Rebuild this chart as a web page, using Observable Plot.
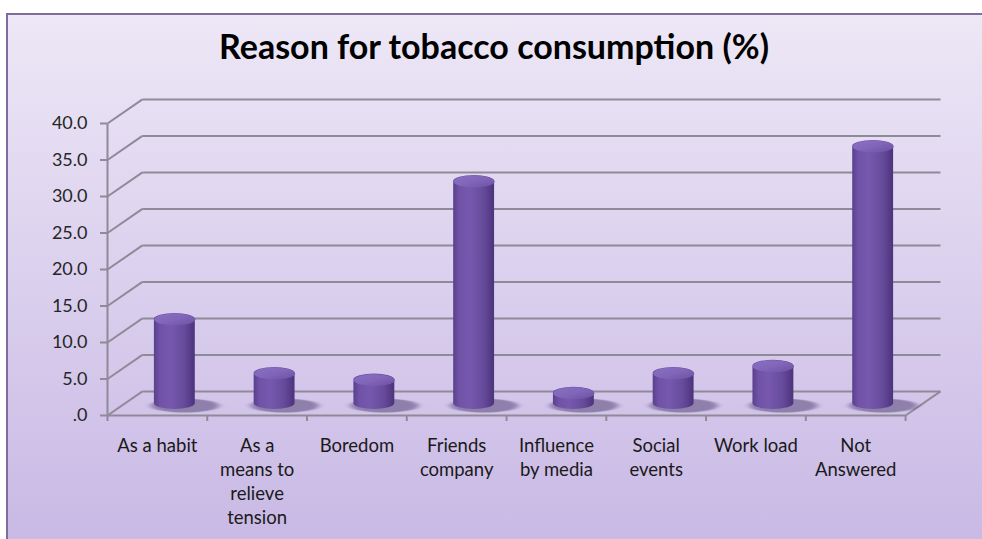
<!DOCTYPE html>
<html><head><meta charset="utf-8">
<script src="https://cdn.jsdelivr.net/npm/d3@7"></script>
<script src="https://cdn.jsdelivr.net/npm/@observablehq/plot@0.6"></script>
<style>
html,body{margin:0;padding:0;background:#fff;width:982px;height:539px;overflow:hidden;font-family:Lato,sans-serif;}
#box{position:absolute;left:6px;top:13px;width:976px;height:526px;border-left:2px solid #7d6c9c;border-top:2px solid #7d6c9c;background:linear-gradient(#ede7f6,#c9b9e5);box-sizing:border-box;}
#title{position:absolute;left:0;top:25px;width:988px;text-align:center;font:bold 34px Lato,sans-serif;color:#000;}
#chart{position:absolute;left:0;top:0;}
.cap circle, g[aria-label="cap"] circle{transform-box:fill-box;transform-origin:center;transform:scaleY(0.29);}
.shadow circle, g[aria-label="shadow"] circle{transform-box:fill-box;transform-origin:center;transform:scaleY(0.2);filter:blur(3px);}
</style>
</head><body>
<div id="box"></div>
<div id="title">Reason for tobacco consumption (%)</div>
<div id="chart"></div>
<script>
const categories = ["As a habit","As a means to relieve tension","Boredom","Friends company","Influence by media","Social events","Work load","Not Answered"];
const values = [11.5, 4.1, 3.2, 30.4, 1.4, 4.1, 5.1, 35.2];
const xTickLabels = ["As a habit","As a\nmeans to\nrelieve\ntension","Boredom","Friends\ncompany","Influence\nby media","Social\nevents","Work load","Not\nAnswered"];
const yTicks = [0,5,10,15,20,25,30,35,40];
const yTickLabels = [".0","5.0","10.0","15.0","20.0","25.0","30.0","35.0","40.0"];

const DX = 0.35;   // depth offset, category units
const DY = 3.3;    // depth offset, value units
const BW = 0.41;   // cylinder width, category units
const N = categories.length;
const grey = "#8f8a98";

const data = categories.map((c,i)=>({c, i, v: values[i], label: xTickLabels[i]}));
const grid = yTicks.map(t=>({t}));
const cx = d => d.i + 0.5 + DX/2;

const chart = Plot.plot({
  width: 982, height: 539,
  marginLeft: 107, marginRight: 42, marginTop: 123, marginBottom: 124,
  x: {domain: [0, N + DX], axis: null},
  y: {domain: [0, 40], axis: null},
  style: {background: "transparent", fontFamily: "Lato, sans-serif", overflow: "visible"},
  marks: [
    Plot.link(grid, {x1: () => DX, x2: () => N + DX, y1: d => d.t + DY, y2: d => d.t + DY, stroke: grey, strokeWidth: 2}),
    Plot.link(grid, {x1: () => 0, x2: () => DX, y1: d => d.t, y2: d => d.t + DY, stroke: grey, strokeWidth: 2}),
    Plot.link([0], {x1: () => N, x2: () => N + DX, y1: () => 0, y2: () => DY, stroke: grey, strokeWidth: 2}),
    Plot.link([0], {x1: () => 0, x2: () => N, y1: () => 0, y2: () => 0, stroke: grey, strokeWidth: 2}),
    Plot.link([0], {x1: () => 0, x2: () => 0, y1: () => 0, y2: () => 40, stroke: grey, strokeWidth: 2}),
    Plot.axisY(yTicks, {tickFormat: d => yTickLabels[yTicks.indexOf(d)], tickSize: 7, tickPadding: 13, stroke: grey, strokeWidth: 2, fill: "#262626", fontSize: 18}),
    Plot.axisX(d3.range(N + 1), {tickSize: 6, tickFormat: () => "", stroke: grey, strokeWidth: 2}),
    Plot.text(data, {x: d => d.i + 0.5, y: () => 0, text: "label", lineAnchor: "top", dy: 19, fontSize: 18.5, lineHeight: 1.3, fill: "#1a1a1a"}),
    Plot.dot(data, {x: d => cx(d) + 0.1, y: () => DY/2 - 0.3, r: 34, fill: "#4a3a6e", fillOpacity: 0.5, className: "shadow", ariaLabel: "shadow"}),
    Plot.rect(data, {x1: d => cx(d) - BW/2, x2: d => cx(d) + BW/2, y1: () => DY/2, y2: d => d.v + DY/2, fill: "url(#barGrad)", rx: 20.5, ry: 6, insetTop: -6, insetBottom: -6}),
    Plot.dot(data, {x: cx, y: d => d.v + DY/2, r: 20.5, fill: "url(#capGrad)", className: "cap", ariaLabel: "cap"})
  ]
});

const svg = d3.select(chart);
const defs = svg.insert("defs", ":first-child");
const g1 = defs.append("linearGradient").attr("id", "barGrad").attr("x1", 0).attr("x2", 1).attr("y1", 0).attr("y2", 0);
[[0,"#5b408e"],[0.15,"#7052a7"],[0.4,"#7659ae"],[0.75,"#664a9a"],[1,"#4c337c"]].forEach(([o,c]) => g1.append("stop").attr("offset", o).attr("stop-color", c));
const g2 = defs.append("linearGradient").attr("id", "capGrad").attr("x1", 0).attr("x2", 1).attr("y1", 0).attr("y2", 1);
[[0,"#8a6fc2"],[0.5,"#8065b8"],[1,"#6c51a3"]].forEach(([o,c]) => g2.append("stop").attr("offset", o).attr("stop-color", c));

document.getElementById("chart").appendChild(chart);
</script>
</body></html>
